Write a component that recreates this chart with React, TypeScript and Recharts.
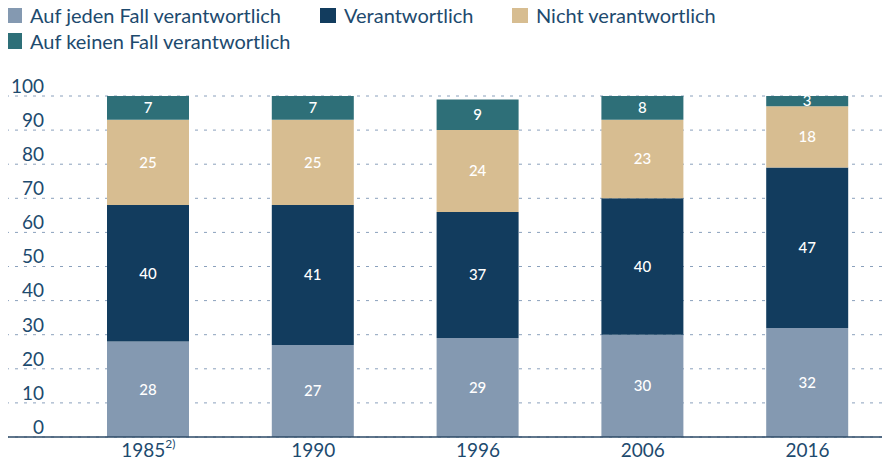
import React from "react";
import { BarChart, Bar, XAxis, YAxis, CartesianGrid, LabelList } from "recharts";

const years = ["1985", "1990", "1996", "2006", "2016"];
const yearNotes = ["2)", "", "", "", ""];
const aufJeden = [28, 27, 29, 30, 32];
const verantwortlich = [40, 41, 37, 40, 47];
const nicht = [25, 25, 24, 23, 18];
const aufKeinen = [7, 7, 9, 8, 3];
const yTicks = [0, 10, 20, 30, 40, 50, 60, 70, 80, 90, 100];

const series = [
  { key: "aufJeden", name: "Auf jeden Fall verantwortlich", color: "#8499b1" },
  { key: "verantwortlich", name: "Verantwortlich", color: "#123c5e" },
  { key: "nicht", name: "Nicht verantwortlich", color: "#d7bd91" },
  { key: "aufKeinen", name: "Auf keinen Fall verantwortlich", color: "#2e6f78" },
];

const data = years.map((y, i) => ({
  year: y,
  aufJeden: aufJeden[i],
  verantwortlich: verantwortlich[i],
  nicht: nicht[i],
  aufKeinen: aufKeinen[i],
}));

const textColor = "#1d4a6e";
const font = "Lato, 'Open Sans', sans-serif";

const YTick = (props: any) => {
  const { y, payload } = props;
  return (
    <text x={44} y={y - 8} textAnchor="end" dominantBaseline="middle" fill={textColor} fontSize={19} fontFamily={font}>
      {payload.value}
    </text>
  );
};

const XTick = (props: any) => {
  const { x, payload, index } = props;
  const note = yearNotes[index];
  return (
    <text x={x} y={452} textAnchor="middle" dominantBaseline="middle" fill={textColor} fontSize={19} fontFamily={font}>
      {payload.value}
      {note ? (
        <tspan fontSize={12} dy={-7}>
          {note}
        </tspan>
      ) : null}
    </text>
  );
};

const legendPos = [
  { left: 6, top: 3 },
  { left: 320, top: 3 },
  { left: 512, top: 3 },
  { left: 6, top: 29 },
];

const LegendBox = () => (
  <div style={{ fontFamily: font, fontSize: 20, color: textColor, position: "absolute", left: 0, top: 0, width: 890, height: 60 }}>
    {series.map((s, i) => (
      <div
        key={s.key}
        style={{ position: "absolute", left: legendPos[i].left, top: legendPos[i].top, display: "flex", alignItems: "center", whiteSpace: "nowrap" }}
      >
        <span style={{ display: "inline-block", width: 16, height: 16, background: s.color, marginRight: 8 }} />
        <span>{s.name}</span>
      </div>
    ))}
  </div>
);

const App: React.FC = () => {
  return (
    <div style={{ margin: -8, width: 890, height: 466, position: "relative", background: "#fff" }}>
      <BarChart width={890} height={466} data={data} margin={{ top: 96, right: 0, left: 0, bottom: 0 }}>
        <CartesianGrid vertical={false} stroke="#8aa0bc" strokeDasharray="3 6" />
        <YAxis
          domain={[0, 100]}
          ticks={yTicks}
          allowDataOverflow
          width={6}
          axisLine={false}
          tickLine={false}
          tick={<YTick />}
        />
        <XAxis
          dataKey="year"
          height={29}
          tick={<XTick />}
          tickLine={false}
          axisLine={{ stroke: "#2c4a66", strokeWidth: 1.5 }}
          padding={{ left: 60, right: 0 }}
          interval={0}
        />
        {series.map((s) => (
          <Bar key={s.key} dataKey={s.key} name={s.name} stackId="a" fill={s.color} barSize={82} isAnimationActive={false}>
            <LabelList dataKey={s.key} position="center" fill="#ffffff" fontSize={15} fontFamily={font} fontWeight={500} />
          </Bar>
        ))}
      </BarChart>
      <LegendBox />
    </div>
  );
};

export default App;
